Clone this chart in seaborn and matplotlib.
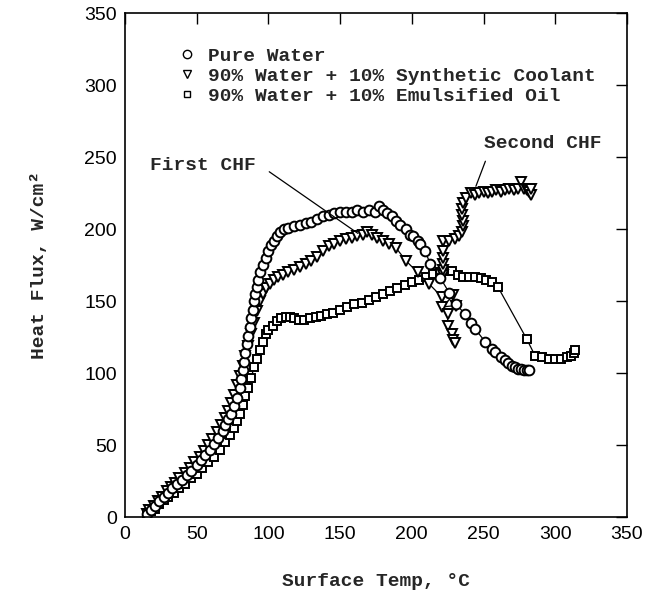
import numpy as np
import pandas as pd
import matplotlib
matplotlib.use("Agg")
import matplotlib.pyplot as plt
from matplotlib.lines import Line2D
import seaborn as sns

# ---------------- data ----------------
water_T = [15, 18, 21, 24, 27, 30, 33, 36, 40, 43, 46, 50, 53, 56, 59, 62, 65, 68, 70, 72,
           74, 76, 78, 80, 81, 82, 83, 84, 85, 86, 87, 88, 89, 90, 91, 92, 93, 94, 96, 98,
           100, 102, 104, 106, 108, 111, 114, 118, 122, 126, 130, 134, 138, 142, 146, 150,
           154, 158, 162, 166, 170, 174, 177, 180, 183, 186, 189, 192, 196, 199, 201, 204,
           206, 209, 213, 220, 226, 231, 237, 241, 244, 251, 256, 258, 262, 265, 267, 270,
           272, 274, 276, 278, 280, 282]
water_q = [2, 5, 8, 11, 14, 17, 20, 23, 26, 29, 32, 36, 40, 43, 47, 51, 55, 60, 64, 68,
           72, 77, 83, 90, 96, 102, 108, 114, 120, 126, 132, 138, 144, 150, 155, 160, 165,
           170, 175, 180, 185, 189, 192, 195, 198, 200, 201, 202, 203, 204, 205, 207, 209,
           210, 211, 212, 212, 212, 213, 212, 213, 212, 216, 213, 211, 209, 206, 203, 200,
           196, 195, 192, 190, 185, 176, 166, 156, 148, 141, 135, 131, 122, 117, 115, 111,
           109, 107, 105, 104, 103, 103, 102, 102, 102]

syn_seg = [1] * 69 + [2] * 34
syn_T = [15, 17, 20, 23, 26, 29, 32, 35, 38, 42, 45, 48, 52, 55, 58, 61, 64, 67, 70, 72,
         74, 76, 78, 80, 82, 84, 86, 88, 90, 92, 94, 96, 98, 101, 104, 107, 110, 114, 118,
         122, 126, 130, 134, 138, 142, 146, 150, 154, 158, 162, 166, 169, 172, 176, 180,
         184, 189, 196, 204, 212, 221, 229, 221, 231, 225, 225, 228, 229, 230,
         222, 222, 222, 222, 222, 222, 226, 230, 233, 235, 236, 236, 235, 235, 236, 238,
         241, 244, 247, 250, 253, 256, 259, 262, 265, 268, 271, 274, 276, 278, 280, 282,
         283, 283]
syn_q = [2, 5, 8, 11, 14, 18, 21, 24, 27, 31, 34, 38, 42, 46, 50, 54, 59, 64, 69, 74,
         79, 85, 92, 98, 105, 112, 119, 127, 135, 143, 150, 155, 159, 162, 165, 167, 168,
         170, 172, 174, 176, 178, 181, 185, 188, 190, 192, 193, 194, 195, 196, 198, 196,
         194, 192, 190, 187, 178, 170, 162, 153, 154, 146, 147, 141, 133, 127, 123, 121,
         168, 172, 176, 180, 185, 192, 192, 193, 195, 198, 202, 206, 210, 214, 218, 222,
         225, 224, 225, 226, 225, 226, 227, 226, 227, 228, 227, 228, 233, 228, 227, 226,
         224, 228]

oil_T = [15, 18, 21, 24, 27, 30, 34, 38, 42, 46, 50, 54, 58, 62, 66, 70, 73, 76, 78, 80,
         82, 84, 86, 88, 90, 92, 94, 96, 98, 100, 103, 106, 109, 112, 115, 118, 121, 125,
         129, 133, 137, 141, 145, 150, 155, 160, 165, 170, 175, 180, 185, 190, 195, 200,
         205, 210, 215, 220, 225, 228, 232, 236, 240, 244, 248, 252, 256, 260, 280, 286,
         291, 296, 300, 304, 308, 311, 313, 314]
oil_q = [2, 4, 6, 9, 12, 14, 17, 20, 23, 27, 30, 34, 38, 42, 47, 52, 57, 62, 67, 72,
         78, 84, 90, 97, 104, 110, 116, 122, 127, 130, 133, 136, 138, 139, 139, 138, 137,
         137, 138, 139, 140, 141, 142, 144, 146, 148, 149, 151, 153, 155, 157, 159, 161,
         163, 165, 167, 169, 170, 171, 171, 168, 167, 167, 167, 166, 165, 163, 160, 124,
         112, 111, 110, 110, 110, 111, 112, 114, 116]

labels = ["Pure Water",
          "90% Water + 10% Synthetic Coolant",
          "90% Water + 10% Emulsified Oil"]
x_ticks = [0, 50, 100, 150, 200, 250, 300, 350]
y_ticks = [0, 50, 100, 150, 200, 250, 300, 350]

# ---------------- styling ----------------
sns.set_style("white")
plt.rcParams["font.family"] = ["Liberation Sans", "DejaVu Sans"]
plt.rcParams["xtick.direction"] = "in"
plt.rcParams["ytick.direction"] = "in"
mono = ["Liberation Mono", "DejaVu Sans Mono"]

fig = plt.figure(figsize=(6.51, 6.00), dpi=100)
ax = fig.add_axes([0.192, 0.138, 0.771, 0.840])

water = pd.DataFrame({"T": water_T, "q": water_q})
syn = pd.DataFrame({"T": syn_T, "q": syn_q, "seg": syn_seg})
oil = pd.DataFrame({"T": oil_T, "q": oil_q})

common = dict(color="black", linewidth=0.9, markerfacecolor="white",
              markeredgecolor="black", markeredgewidth=1.4, sort=False,
              estimator=None, legend=False, ax=ax)

sns.lineplot(data=oil, x="T", y="q", marker="s", markersize=6, **common)
sns.lineplot(data=syn, x="T", y="q", units="seg", marker="v", markersize=7, **common)
sns.lineplot(data=water, x="T", y="q", marker="o", markersize=7, **common)

ax.set_xlim(0, 350)
ax.set_ylim(0, 350)
ax.set_xticks(x_ticks)
ax.set_yticks(y_ticks)
ax.tick_params(axis="both", which="both", length=8, width=1, labelsize=14,
               top=True, right=True, color="black", labelcolor="black", pad=6)
for s in ax.spines.values():
    s.set_visible(True)
    s.set_color("black")
    s.set_linewidth(1.2)

ax.set_xlabel("Surface Temp, °C", fontsize=14, family=mono, fontweight="bold",
              labelpad=22)
ax.set_ylabel("Heat Flux, W/cm²", fontsize=14, family=mono, fontweight="bold",
              labelpad=26)

# annotations
ax.text(54.5, 244.5, "First CHF", fontsize=14, family=mono, fontweight="bold",
        ha="center", va="center")
ax.annotate("", xy=(164, 196), xytext=(99, 241),
            arrowprops=dict(arrowstyle="-", color="black", lw=0.9))
ax.text(291, 259.5, "Second CHF", fontsize=14, family=mono, fontweight="bold",
        ha="center", va="center")
ax.annotate("", xy=(244, 228), xytext=(252, 249),
            arrowprops=dict(arrowstyle="-", color="black", lw=0.9))

# legend (markers only)
handles = [Line2D([], [], linestyle="none", marker=m, markersize=ms,
                  markerfacecolor="white", markeredgecolor="black", markeredgewidth=1.0)
           for m, ms in zip(["o", "v", "s"], [6, 6, 5])]
leg = ax.legend(handles, labels, loc="upper left", bbox_to_anchor=(0.085, 0.952),
                frameon=False, handlelength=1.0, handletextpad=0.6,
                labelspacing=0.12, borderpad=0.0,
                prop={"family": mono, "size": 14, "weight": "bold"})

fig.savefig("out.png", dpi=100)
